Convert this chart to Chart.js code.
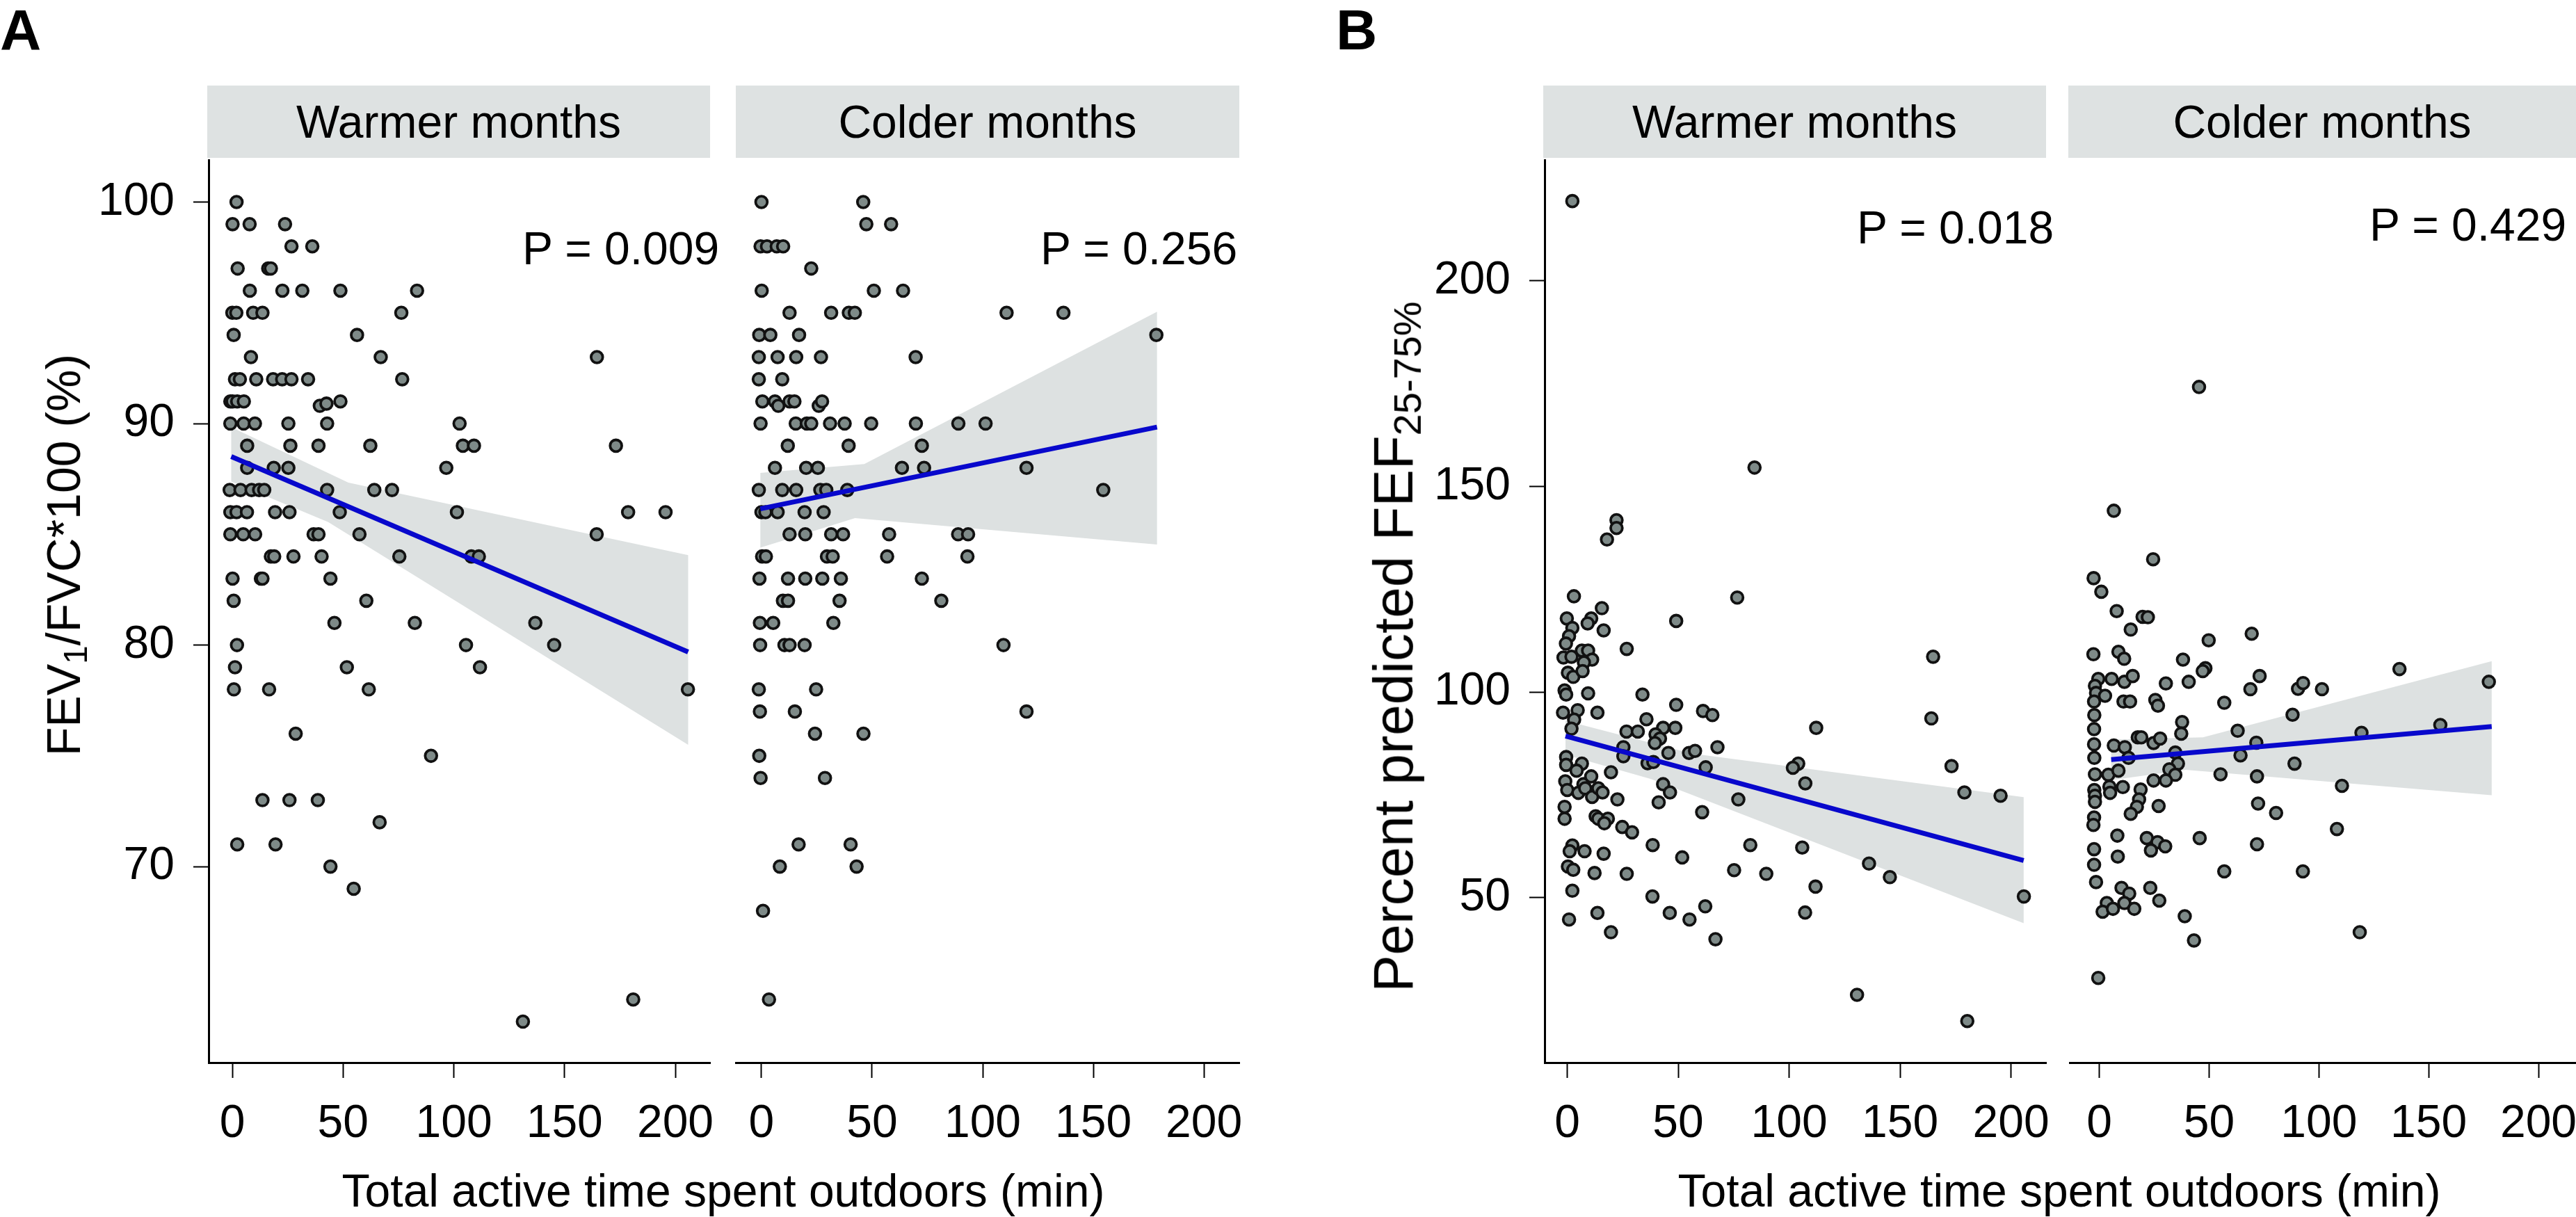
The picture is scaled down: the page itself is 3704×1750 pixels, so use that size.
<!DOCTYPE html>
<html>
<head>
<meta charset="utf-8">
<script src="https://cdn.jsdelivr.net/npm/chart.js@4.4.1/dist/chart.umd.min.js"></script>
<style>
  body { margin:0; width:3704px; height:1750px; background:#fff; position:relative; overflow:hidden;
         font-family:"Liberation Sans", Arial, Helvetica, sans-serif; color:#000; }
  canvas { position:absolute; }
  .strip { position:absolute; top:123px; height:104px; background:#dee2e2; font-size:66px;
           display:flex; align-items:center; justify-content:center; white-space:nowrap; }
  .txt { position:absolute; font-size:66px; line-height:1; white-space:nowrap; }
  .panelLetter { position:absolute; font-size:82px; font-weight:bold; line-height:1; }
  .xtitle { position:absolute; top:1679px; font-size:66px; line-height:1; white-space:nowrap; transform:translateX(-50%); }
  .ytitle { position:absolute; line-height:1; white-space:nowrap; transform:translate(-50%,-50%) rotate(-90deg); }
  .ytitle sub { font-size:0.7em; vertical-align:-0.22em; }
</style>
</head>
<body>

<div class="panelLetter" style="left:0px; top:2px;">A</div>
<div class="panelLetter" style="left:1921px; top:2px;">B</div>

<div class="strip" style="left:298px; width:723px;">Warmer months</div>
<div class="strip" style="left:1058px; width:724px;">Colder months</div>
<div class="strip" style="left:2219px; width:723px;">Warmer months</div>
<div class="strip" style="left:2974px; width:730px;">Colder months</div>

<canvas id="aWarm"></canvas>
<canvas id="aCold"></canvas>
<canvas id="bWarm"></canvas>
<canvas id="bCold"></canvas>

<div class="txt" style="left:751px; top:324px;">P = 0.009</div>
<div class="txt" style="left:1496px; top:324px;">P = 0.256</div>
<div class="txt" style="left:2670px; top:294px;">P = 0.018</div>
<div class="txt" style="left:3407px; top:290px;">P = 0.429</div>

<div class="ytitle" style="left:95px; top:798px; font-size:68px;">FEV<sub>1</sub>/FVC*100 (%)</div>
<div class="ytitle" style="left:2008px; top:930px; font-size:80px;">Percent predicted FEF<sub>25-75%</sub></div>

<div class="xtitle" style="left:1040px;">Total active time spent outdoors (min)</div>
<div class="xtitle" style="left:2961px;">Total active time spent outdoors (min)</div>

<script>
const FONT = '"Liberation Sans", Arial, sans-serif';

// ticks
const xTicks = [0, 50, 100, 150, 200];
const yTicksA = [70, 80, 90, 100];
const yTicksB = [50, 100, 150, 200];

// A - FEV1/FVC, warmer months [min, %]
const aWarmPts = [
  [1.9,100],
  [0.1,99],[7.8,99],[23.8,99],
  [26.7,98],[36.1,98],
  [2.4,97],[16.2,97],[17.4,97],
  [7.9,96],[22.6,96],[31.6,96],[48.8,96],[83.4,96],
  [0,95],[1.8,95],[9.4,95],[13.6,95],[76.3,95],
  [0.6,94],[56.3,94],
  [8.4,93],[67.0,93],[164.6,93],
  [1.2,92],[3.4,92],[10.8,92],[18.4,92],[22.5,92],[26.7,92],[34.2,92],[76.7,92],
  [-0.9,91],[0.1,91],[2.2,91],[5.2,91],[39.5,90.8],[42.5,90.9],[48.8,91],
  [-0.9,90],[5.1,90],[10.2,90],[25.3,90],[42.8,90],[102.6,90],
  [6.7,89],[26.2,89],[38.9,89],[62.3,89],[104.1,89],[109.1,89],[173.2,89],
  [6.7,88],[18.7,88],[25.3,88],[96.6,88],
  [-1.2,87],[3.7,87],[8.7,87],[12.1,87],[14.4,87],[42.8,87],[64.1,87],[72.1,87],
  [-0.9,86],[1.9,86],[6.6,86],[19.3,86],[25.8,86],[48.5,86],[101.4,86],[178.7,86],[195.6,86],
  [-0.9,85],[4.9,85],[10.3,85],[36.7,85],[38.9,85],[57.4,85],[164.5,85],
  [17.4,84],[18.9,84],[27.6,84],[40.3,84],[75.4,84],[107.9,84],[111.3,84],
  [0.1,83],[12.9,83],[13.6,83],[44.3,83],
  [0.6,82],[60.5,82],
  [46.1,81],[82.4,81],[136.8,81],
  [2.1,80],[105.5,80],[145.3,80],
  [1.2,79],[51.7,79],[111.8,79],
  [0.7,78],[16.6,78],[61.6,78],[205.7,78],
  [28.6,76],[89.7,75],
  [13.6,73],[25.8,73],[38.6,73],
  [66.5,72],
  [2.2,71],[19.5,71],
  [44.3,70],[54.8,69],
  [181.0,64],[131.2,63]
];
const aWarmFit = [[-0.5,88.51],[205.8,79.69]];
const aWarmUpper = [[-0.5,89.84],[52.4,87.33],[205.8,84.06]];
const aWarmLower = [[-0.5,87.38],[43.3,85.55],[205.8,75.50]];

// A - FEV1/FVC, colder months
const aColdPts = [
  [0,100],[46.0,100],
  [47.4,99],[58.6,99],
  [-0.4,98],[2.5,98],[6.9,98],[9.8,98],
  [22.5,97],
  [0.1,96],[50.8,96],[64.0,96],
  [12.7,95],[31.5,95],[39.5,95],[42.2,95],[110.8,95],[136.5,95],
  [-1.0,94],[4.0,94],[17.0,94],[178.5,94],
  [-1.2,93],[7.3,93],[15.7,93],[26.9,93],[69.7,93],
  [-1.2,92],[9.4,92],
  [0.4,91],[6.1,91],[7.6,90.8],[12.7,91],[14.9,91],[25.9,90.8],[27.4,91],
  [-0.4,90],[15.5,90],[20.5,90],[22.5,90],[31.0,90],[37.6,90],[49.6,90],[69.8,90],[89.0,90],[101.3,90],
  [11.9,89],[39.4,89],[72.5,89],
  [6.1,88],[20.2,88],[25.5,88],[63.5,88],[73.5,88],[119.8,88],
  [-1.2,87],[9.4,87],[15.7,87],[26.6,87],[29.3,87],[38.8,87],[154.5,87],
  [0,86],[1.8,86],[7.3,86],[19.5,86],[28.1,86],
  [12.7,85],[19.8,85],[31.5,85],[36.9,85],[57.7,85],[88.9,85],[93.4,85],
  [0.3,84],[2.0,84],[29.6,84],[32.2,84],[56.8,84],[93.1,84],
  [-0.9,83],[12.0,83],[19.8,83],[27.5,83],[35.9,83],[72.5,83],
  [9.7,82],[12.0,82],[35.3,82],[81.3,82],
  [-0.7,81],[5.3,81],[32.5,81],
  [-0.6,80],[10.4,80],[12.7,80],[19.5,80],[109.4,80],
  [-1.2,78],[24.7,78],
  [-0.7,77],[15.1,77],[119.8,77],
  [24.2,76],[46.1,76],
  [-1.0,75],
  [-0.4,74],[28.7,74],
  [16.8,71],[40.3,71],
  [8.3,70],[43.0,70],
  [0.7,68],[3.4,64]
];
const aColdFit = [[-0.5,86.15],[178.8,89.84]];
const aColdUpper = [[-0.5,87.77],[46.5,88.17],[178.8,95.05]];
const aColdLower = [[-0.5,84.40],[42.3,85.73],[178.8,84.54]];

// B - percent predicted FEF25-75%, warmer months
const bWarmPts = [
  [2.3,219.4],[84.4,154.6],[22.2,141.8],[22.2,139.9],[17.9,137.1],
  [3.0,123.3],[76.6,123.0],[15.6,120.4],[-0.2,117.9],[10.8,117.9],[9.2,116.7],
  [2.3,115.6],[16.4,115.0],[49.1,117.3],[0.8,113.6],[-0.6,111.8],[26.8,110.5],
  [-1.7,108.4],[1.9,108.6],[6.6,110.1],[9.4,110.1],[11.2,107.9],[7.5,107.2],
  [0.3,104.7],[2.7,103.7],[6.9,105.1],[164.9,108.6],
  [-1.2,100.4],[-0.5,99.4],[9.4,99.7],[33.9,99.4],
  [-1.9,95.0],[4.7,95.6],[13.6,95.0],[49.1,96.9],
  [3.1,93.3],[1.9,91.1],[35.7,93.4],[26.7,90.4],[31.8,90.4],[43.2,91.3],
  [39.8,89.7],[41.8,88.7],[48.7,91.3],[61.2,95.4],[65.4,94.4],[112.2,91.3],[164.1,93.6],
  [39.5,87.6],[25.3,86.6],[25.3,84.4],[67.7,86.6],[45.6,85.2],[54.9,85.2],[57.6,85.7],
  [-0.5,84.2],[-0.5,82.3],[6.6,82.6],[4.2,80.9],[36.2,82.7],[38.8,83.0],[62.4,81.7],
  [19.7,80.5],[104.1,82.6],[101.7,81.6],[173.2,82.0],
  [-0.9,78.3],[7.3,77.6],[10.8,79.5],[0,76.2],[5.0,75.5],[8.1,76.6],[11.2,74.5],
  [14.0,76.6],[15.9,75.6],[43.2,77.6],[46.3,75.6],[107.3,77.8],[179.0,75.6],[195.3,74.8],
  [22.6,73.9],[77.1,73.9],[41.2,73.2],[-1.2,72.1],[-1.2,69.2],[12.8,69.8],[14.0,69.2],
  [18.3,69.2],[16.7,68.1],[60.8,70.8],[24.8,67.2],[29.2,65.9],
  [2.3,62.7],[1.1,61.3],[7.8,61.3],[16.4,60.7],[38.5,62.8],[82.5,62.8],[105.9,62.2],
  [51.8,59.8],[0.3,57.6],[2.7,56.8],[12.3,56.0],[26.8,55.8],[75.2,56.7],[89.7,55.8],
  [136.0,58.3],[145.4,55.0],[111.9,52.7],[2.3,51.7],[38.4,50.3],[205.8,50.3],
  [62.2,47.9],[0.8,44.7],[13.6,46.3],[46.2,46.3],[55.1,44.7],[107.2,46.4],
  [19.7,41.6],[66.8,39.9],[130.6,26.4],[180.3,20.0]
];
const bWarmFit = [[-0.8,89.3],[205.7,59.04]];
const bWarmUpper = [[-0.8,93.07],[56.0,85.07],[205.7,74.47]];
const bWarmLower = [[-0.8,84.78],[37.8,78.86],[205.7,43.82]];

// B - percent predicted FEF25-75%, colder months
const bColdPts = [
  [45.4,174.2],[6.6,144.1],[24.5,132.3],[-2.6,127.7],[0.9,124.4],[7.9,119.7],
  [19.7,118.3],[22.1,118.2],[14.3,115.2],[69.4,114.2],[49.8,112.6],
  [-2.7,109.2],[8.7,109.8],[11.3,108.1],[38.1,107.9],[48.3,105.8],[47.1,105.1],[136.7,105.6],
  [-0.5,103.2],[5.6,103.2],[11.4,102.5],[15.2,103.9],[40.7,102.5],[30.3,102.1],[73.0,103.9],[177.4,102.5],
  [-2.0,101.5],[-1.5,99.8],[2.6,99.1],[68.8,100.7],[90.5,100.8],[92.8,102.2],[101.4,100.7],
  [-2.4,97.7],[11.0,97.7],[14.0,97.7],[25.5,98.1],[26.7,96.7],[56.9,97.4],
  [-2.3,94.4],[88.0,94.5],[-2.4,91.0],[37.7,92.7],[37.3,89.9],[63.0,90.6],[119.4,90.1],[155.3,92.0],
  [-2.4,87.3],[6.6,87.0],[11.6,86.6],[17.5,89.0],[19.1,89.0],[24.7,87.6],[27.7,88.7],[71.5,87.7],
  [34.6,85.3],[13.3,84.0],[-2.3,84.0],[35.8,82.6],[64.3,84.6],[88.9,82.6],
  [-2.0,80.0],[4.1,79.9],[8.7,80.9],[31.9,81.2],[34.6,79.9],[24.7,78.5],[30.3,78.5],[55.2,80.0],[71.8,79.5],
  [4.6,77.0],[10.7,76.9],[18.8,76.3],[4.9,75.5],[-2.3,76.2],[-2.0,74.8],[-2.0,73.3],
  [18.1,73.9],[17.1,72.1],[14.3,70.4],[27.0,72.3],[110.5,77.2],[72.3,72.9],[80.5,70.6],
  [-2.4,69.5],[-2.7,67.7],[108.2,66.7],[8.2,65.1],[21.6,64.5],[26.5,63.5],[30.0,62.5],
  [23.5,61.5],[45.7,64.5],[71.8,63.0],[-2.4,61.8],[8.4,60.0],[-2.4,58.0],
  [56.9,56.4],[92.7,56.4],[-1.5,53.8],[10.1,52.4],[13.6,51.0],[23.2,52.4],
  [3.4,48.7],[11.4,48.7],[1.5,46.6],[6.2,47.3],[15.9,47.3],[27.3,49.3],
  [38.9,45.5],[43.1,39.6],[118.6,41.6],[-0.5,30.5]
];
const bColdFit = [[5.4,83.59],[178.7,91.63]];
const bColdUpper = [[5.4,88.45],[47.2,89.0],[178.7,107.5]];
const bColdLower = [[5.4,78.58],[39.4,81.1],[178.7,74.93]];

const toXY = arr => arr.map(p => ({x: p[0], y: p[1]}));

function drawPanel(id, o) {
  // o.areaLeft / o.areaRight : pixel edges of the plotting area on the page
  const canvas = document.getElementById(id);
  const yW = o.showY ? 200 : 0;
  const padL = o.showY ? 0 : 40;
  const padR = 40, padT = 30, xH = 200;
  const w = padL + yW + (o.areaRight - o.areaLeft) + padR;
  const h = padT + 1298 + xH;
  canvas.width = w;
  canvas.height = h;
  canvas.style.left = (o.areaLeft - yW - padL) + 'px';
  canvas.style.top = (230 - padT) + 'px';

  const tickFont = {family: FONT, size: 66};
  const band = toXY(o.upper).concat(toXY(o.lower).reverse());

  new Chart(canvas.getContext('2d'), {
    type: 'scatter',
    data: {
      datasets: [
        { data: band, showLine: true, fill: 'shape', backgroundColor: '#dde1e1',
          borderWidth: 0, pointRadius: 0, order: 3 },
        { data: toXY(o.pts), pointRadius: 8.4, pointBorderWidth: 3.8,
          backgroundColor: '#7e8a88', borderColor: '#111111', order: 2 },
        { data: toXY(o.fit), showLine: true, borderColor: '#0808cc', borderWidth: 7,
          pointRadius: 0, order: 1 }
      ]
    },
    options: {
      responsive: false,
      animation: false,
      layout: { autoPadding: false, padding: { left: padL, right: padR, top: padT, bottom: 0 } },
      plugins: { legend: { display: false }, tooltip: { enabled: false } },
      scales: {
        x: {
          type: 'linear', min: o.xMin, max: o.xMax,
          afterBuildTicks: s => { s.ticks = xTicks.map(v => ({value: v})); },
          afterFit: s => { s.height = xH; s.paddingLeft = 0; s.paddingRight = 0; },
          ticks: { font: tickFont, color: '#000', padding: 27, maxRotation: 0, autoSkip: false },
          grid: { drawOnChartArea: false, drawTicks: true, tickLength: 22, tickWidth: 2, tickColor: '#000' },
          border: { display: true, color: '#000', width: 3 }
        },
        y: {
          display: o.showY,
          type: 'linear', min: o.yMin, max: o.yMax,
          afterBuildTicks: s => { s.ticks = o.yTicks.map(v => ({value: v})); },
          afterFit: s => { s.width = yW; s.paddingTop = 0; s.paddingBottom = 0; },
          ticks: { font: tickFont, color: '#000', padding: 27, autoSkip: false },
          grid: { drawOnChartArea: false, drawTicks: true, tickLength: 22, tickWidth: 2, tickColor: '#000' },
          border: { display: true, color: '#000', width: 3 }
        }
      }
    }
  });
}

drawPanel('aWarm', { areaLeft: 300, areaRight: 1021, xMin: -10.7, xMax: 215.7, yMin: 61.15, yMax: 101.9,
  yTicks: yTicksA, showY: true, pts: aWarmPts, fit: aWarmFit, upper: aWarmUpper, lower: aWarmLower });
drawPanel('aCold', { areaLeft: 1058, areaRight: 1782, xMin: -11.6, xMax: 216.0, yMin: 61.15, yMax: 101.9,
  yTicks: yTicksA, showY: false, pts: aColdPts, fit: aColdFit, upper: aColdUpper, lower: aColdLower });
drawPanel('bWarm', { areaLeft: 2221, areaRight: 2942, xMin: -10.2, xMax: 215.8, yMin: 9.9, yMax: 229.4,
  yTicks: yTicksB, showY: true, pts: bWarmPts, fit: bWarmFit, upper: bWarmUpper, lower: bWarmLower });
drawPanel('bCold', { areaLeft: 2976, areaRight: 3704, xMin: -13.5, xMax: 217.1, yMin: 9.9, yMax: 229.4,
  yTicks: yTicksB, showY: false, pts: bColdPts, fit: bColdFit, upper: bColdUpper, lower: bColdLower });
</script>
</body>
</html>
